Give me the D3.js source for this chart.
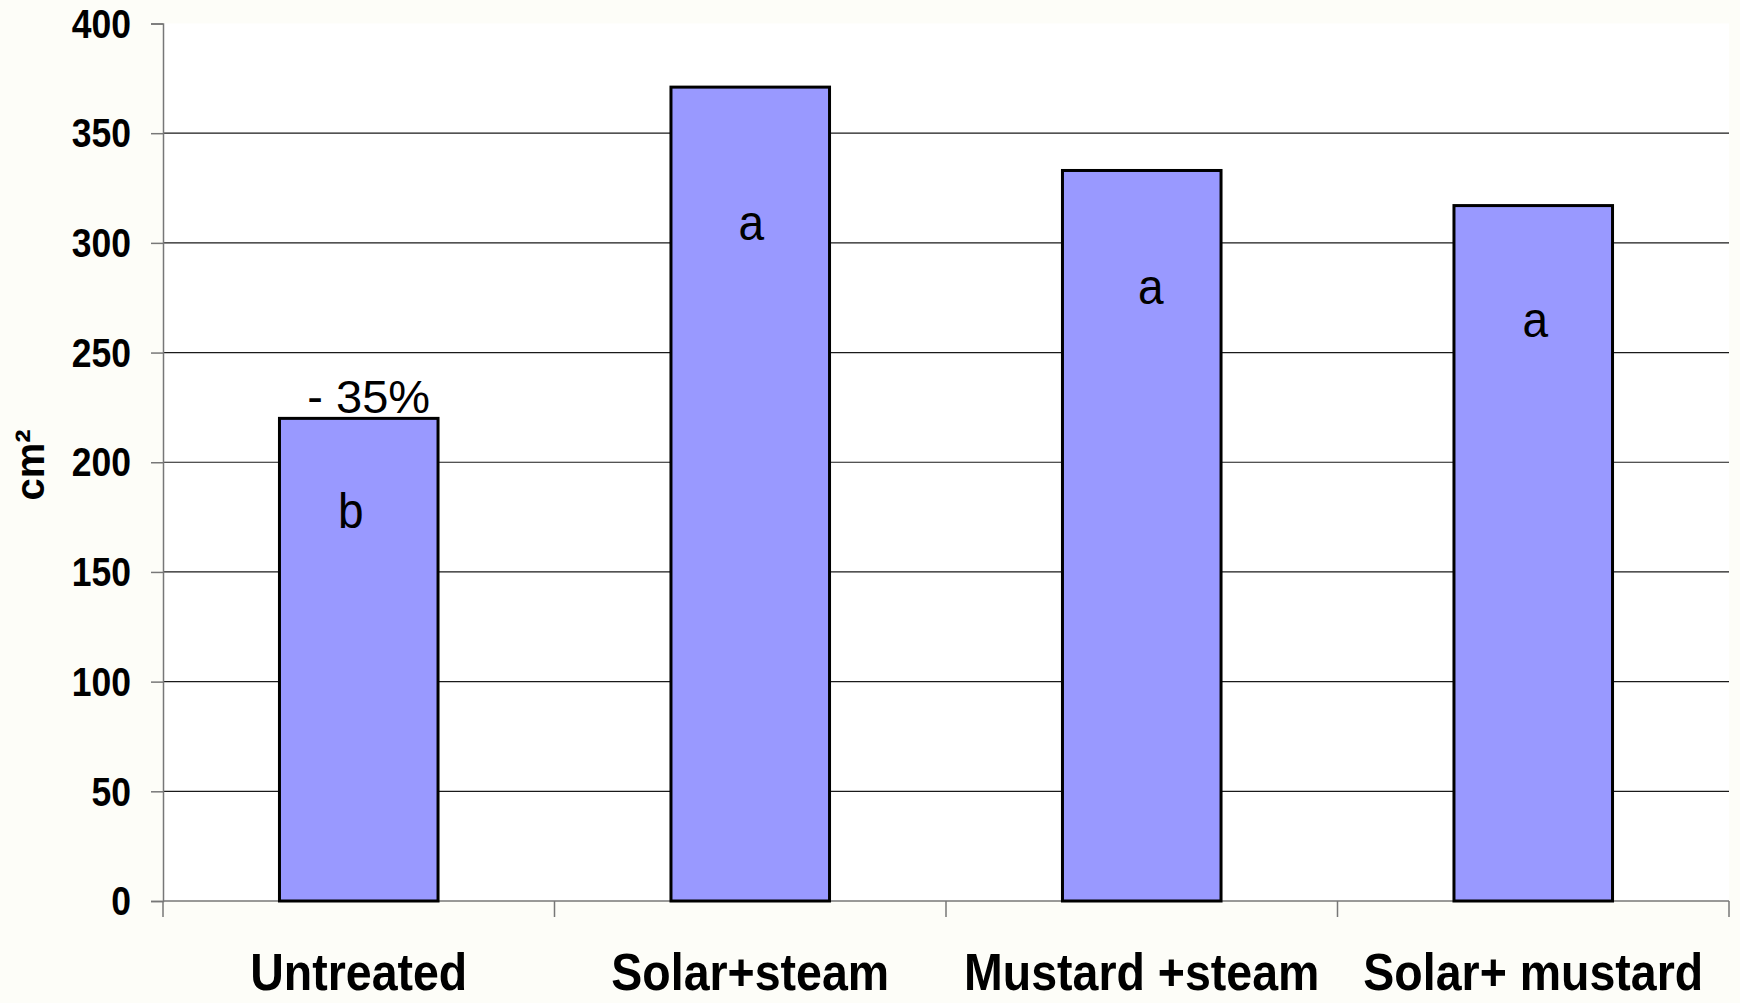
<!DOCTYPE html>
<html><head><meta charset="utf-8">
<script src="https://cdn.jsdelivr.net/npm/d3@7"></script>
<style>
html,body{margin:0;padding:0;background:#fdfdf8;}
svg{display:block;font-family:"Liberation Sans",Arial,sans-serif;}
</style></head>
<body>
<svg id="chart" width="1740" height="1003"></svg>
<script>
const categories = ["Untreated", "Solar+steam", "Mustard +steam", "Solar+ mustard"];
const values = [220, 371, 333, 317];
const letters = ["b", "a", "a", "a"];
const letterLevels = [178, 309, 280, 265];
const yTicks = [0, 50, 100, 150, 200, 250, 300, 350, 400];
const annotation = "- 35%";

const svg = d3.select("#chart");
const plotLeft = 163, plotRight = 1729, plotTop = 23.5, plotBottom = 901;
const letterShift = [-8, 1, 9, 2];

const x = d3.scaleBand().domain(categories).range([plotLeft, plotRight]).paddingInner(0.595).paddingOuter(0.2975);
const xb = d3.scaleBand().domain(categories).range([plotLeft, plotRight]).padding(0);
const y = d3.scaleLinear().domain([0, 400]).range([plotBottom, plotTop]);

svg.append("rect").attr("x", plotLeft).attr("y", plotTop).attr("width", plotRight - plotLeft).attr("height", plotBottom - plotTop).attr("fill", "#ffffff");

// gridlines
svg.append("g").selectAll("line").data(yTicks.filter(d => d > 0 && d < 400)).join("line")
  .attr("x1", plotLeft).attr("x2", plotRight).attr("y1", d => y(d)).attr("y2", d => y(d))
  .attr("stroke", "#1a1a1a").attr("stroke-width", 1.2);

// y axis
const yAxis = svg.append("g").attr("transform", `translate(${plotLeft},0)`)
  .call(d3.axisLeft(y).tickValues(yTicks).tickSize(12).tickPadding(20));
yAxis.select(".domain").attr("stroke", "#777").attr("stroke-width", 1.5);
yAxis.selectAll(".tick line").attr("stroke", "#777").attr("stroke-width", 1.5);
yAxis.selectAll(".tick text").attr("font-size", 35.5).attr("font-weight", "bold").attr("fill", "#000")
  .attr("font-family", "Liberation Sans, Arial, sans-serif")
  .attr("dy", null).attr("dominant-baseline", "central")
  .attr("transform", "scale(1,1.12)");

// x axis baseline and ticks at band boundaries
svg.append("line").attr("x1", plotLeft).attr("x2", plotRight).attr("y1", plotBottom).attr("y2", plotBottom)
  .attr("stroke", "#777").attr("stroke-width", 1.5);
const bounds = categories.map(c => xb(c)).concat([xb(categories[categories.length - 1]) + xb.bandwidth()]);
svg.append("g").selectAll("line").data(bounds).join("line")
  .attr("x1", d => d).attr("x2", d => d).attr("y1", plotBottom).attr("y2", plotBottom + 16)
  .attr("stroke", "#777").attr("stroke-width", 1.5);

// category labels
svg.append("g").selectAll("text").data(categories).join("text")
  .attr("transform", d => `translate(${x(d) + x.bandwidth() / 2},990) scale(1,1.1)`)
  .attr("text-anchor", "middle").attr("font-size", 46.5).attr("font-weight", "bold").text(d => d);

// bars
svg.append("g").selectAll("rect").data(categories).join("rect")
  .attr("x", d => x(d)).attr("y", (d, i) => y(values[i]))
  .attr("width", x.bandwidth()).attr("height", (d, i) => y(0) - y(values[i]))
  .attr("fill", "#9999ff").attr("stroke", "#000").attr("stroke-width", 3);

// letters
svg.append("g").selectAll("text").data(categories).join("text")
  .attr("transform", (d, i) => `translate(${x(d) + x.bandwidth() / 2 + letterShift[i]},${y(letterLevels[i])}) scale(1,1.08)`)
  .attr("text-anchor", "middle").attr("dominant-baseline", "central")
  .attr("font-size", 46).text((d, i) => letters[i]);

// annotation
svg.append("text").attr("x", x(categories[0]) + x.bandwidth() / 2 + 10).attr("y", y(values[0]) - 5)
  .attr("text-anchor", "middle").attr("font-size", 47).text(annotation);

// y axis title
svg.append("text").attr("transform", `translate(44,465) rotate(-90)`)
  .attr("text-anchor", "middle").attr("font-size", 40).attr("font-weight", "bold")
  .text("cm²");
</script>
</body></html>
